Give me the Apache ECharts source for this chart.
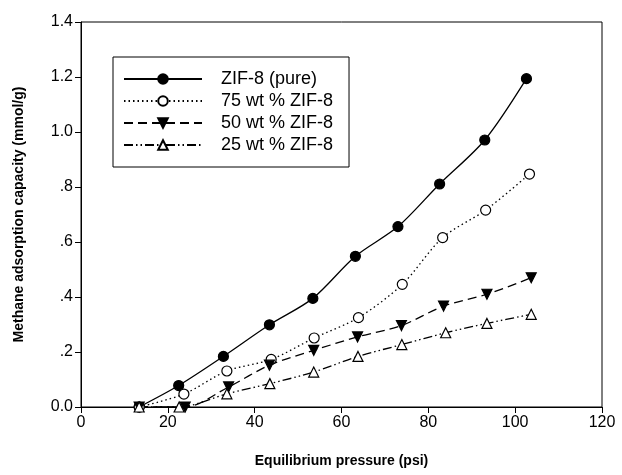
<!DOCTYPE html>
<html>
<head>
<meta charset="utf-8">
<script src="https://cdn.jsdelivr.net/npm/echarts@6/dist/echarts.min.js"></script>
<style>html,body{margin:0;padding:0;background:#fff}#c{width:622px;height:475px}</style>
</head>
<body>
<div id="c"></div>
<script>
const seriesNames = ["ZIF-8 (pure)", "75 wt % ZIF-8", "50 wt % ZIF-8", "25 wt % ZIF-8"];
const xPure = [13.4, 22.5, 32.8, 43.4, 53.4, 63.2, 73.0, 82.6, 93.0, 102.6];
const yPure = [0, 0.078, 0.184, 0.299, 0.395, 0.548, 0.656, 0.811, 0.971, 1.194];
const x75 = [13.4, 23.7, 33.6, 43.8, 53.7, 63.9, 74.0, 83.3, 93.2, 103.3];
const y75 = [0, 0.047, 0.131, 0.173, 0.251, 0.325, 0.446, 0.616, 0.716, 0.847];
const x50 = [13.4, 24.0, 34.0, 43.4, 53.6, 63.7, 73.8, 83.5, 93.5, 103.7];
const y50 = [0, 0, 0.073, 0.152, 0.206, 0.255, 0.296, 0.367, 0.410, 0.470];
const x25 = [13.4, 22.6, 33.6, 43.5, 53.6, 63.8, 73.9, 84.0, 93.5, 103.7];
const y25 = [0, 0, 0.048, 0.085, 0.127, 0.184, 0.227, 0.270, 0.304, 0.337];
const xTickLabels = ["0", "20", "40", "60", "80", "100", "120"];
const yTickLabels = ["0.0", ".2", ".4", ".6", ".8", "1.0", "1.2", "1.4"];

function pairs(xs, ys) { return xs.map((x, i) => [x, ys[i]]); }

const font = "'Liberation Sans', Arial, sans-serif";
const chart = echarts.init(document.getElementById('c'), null, {renderer: 'canvas'});

const baseSeries = (name, xs, ys, symbol, fill, dash, rotate) => ({
  name: name,
  type: 'line',
  data: pairs(xs, ys),
  smooth: 0.3,
  symbol: symbol,
  symbolSize: 10,
  symbolRotate: rotate || 0,
  showAllSymbol: true,
  lineStyle: {color: '#000', width: 1.3, type: dash},
  itemStyle: {color: fill, borderColor: '#000', borderWidth: 1.2},
  emphasis: {disabled: true},
  animation: false
});

chart.setOption({
  animation: false,
  backgroundColor: '#fff',
  textStyle: {fontFamily: font},
  grid: {left: 81, right: 20, top: 22, bottom: 68, show: true, borderColor: '#000', borderWidth: 1, containLabel: false},
  legend: {
    orient: 'vertical',
    left: 113, top: 57,
    padding: [13, 16, 13, 10],
    itemGap: 4,
    itemWidth: 78,
    itemHeight: 12,
    borderColor: '#000', borderWidth: 1,
    backgroundColor: '#fff',
    textStyle: {fontFamily: font, fontSize: 18, color: '#000', padding: [0, 0, 0, 14]},
    data: seriesNames
  },
  xAxis: {
    type: 'value', min: 0, max: 120, interval: 20,
    name: 'Equilibrium pressure (psi)', nameLocation: 'middle', nameGap: 47,
    nameTextStyle: {fontFamily: font, fontSize: 14, fontWeight: 'bold', color: '#000'},
    axisLine: {show: true, lineStyle: {color: '#000', width: 1}},
    axisTick: {show: true, inside: false, length: 6, lineStyle: {color: '#000'}},
    axisLabel: {color: '#000', fontSize: 16, margin: 8, fontFamily: font,
      formatter: (v) => xTickLabels[Math.round(v / 20)]},
    splitLine: {show: false}
  },
  yAxis: {
    type: 'value', min: 0, max: 1.4, interval: 0.2,
    name: 'Methane adsorption capacity (mmol/g)', nameLocation: 'middle', nameGap: 55,
    nameTextStyle: {fontFamily: font, fontSize: 14, fontWeight: 'bold', color: '#000'},
    axisLine: {show: true, lineStyle: {color: '#000', width: 1}},
    axisTick: {show: true, inside: false, length: 6, lineStyle: {color: '#000'}},
    axisLabel: {color: '#000', fontSize: 16, margin: 8, fontFamily: font,
      formatter: (v) => yTickLabels[Math.round(v / 0.2)]},
    splitLine: {show: false}
  },
  series: [
    baseSeries(seriesNames[0], xPure, yPure, 'circle', '#000', 'solid'),
    baseSeries(seriesNames[1], x75, y75, 'circle', '#fff', [1.5, 3]),
    baseSeries(seriesNames[2], x50, y50, 'triangle', '#000', [9, 5], 180),
    baseSeries(seriesNames[3], x25, y25, 'triangle', '#fff', [9, 3, 1.5, 3, 1.5, 3])
  ]
});
</script>
</body>
</html>
